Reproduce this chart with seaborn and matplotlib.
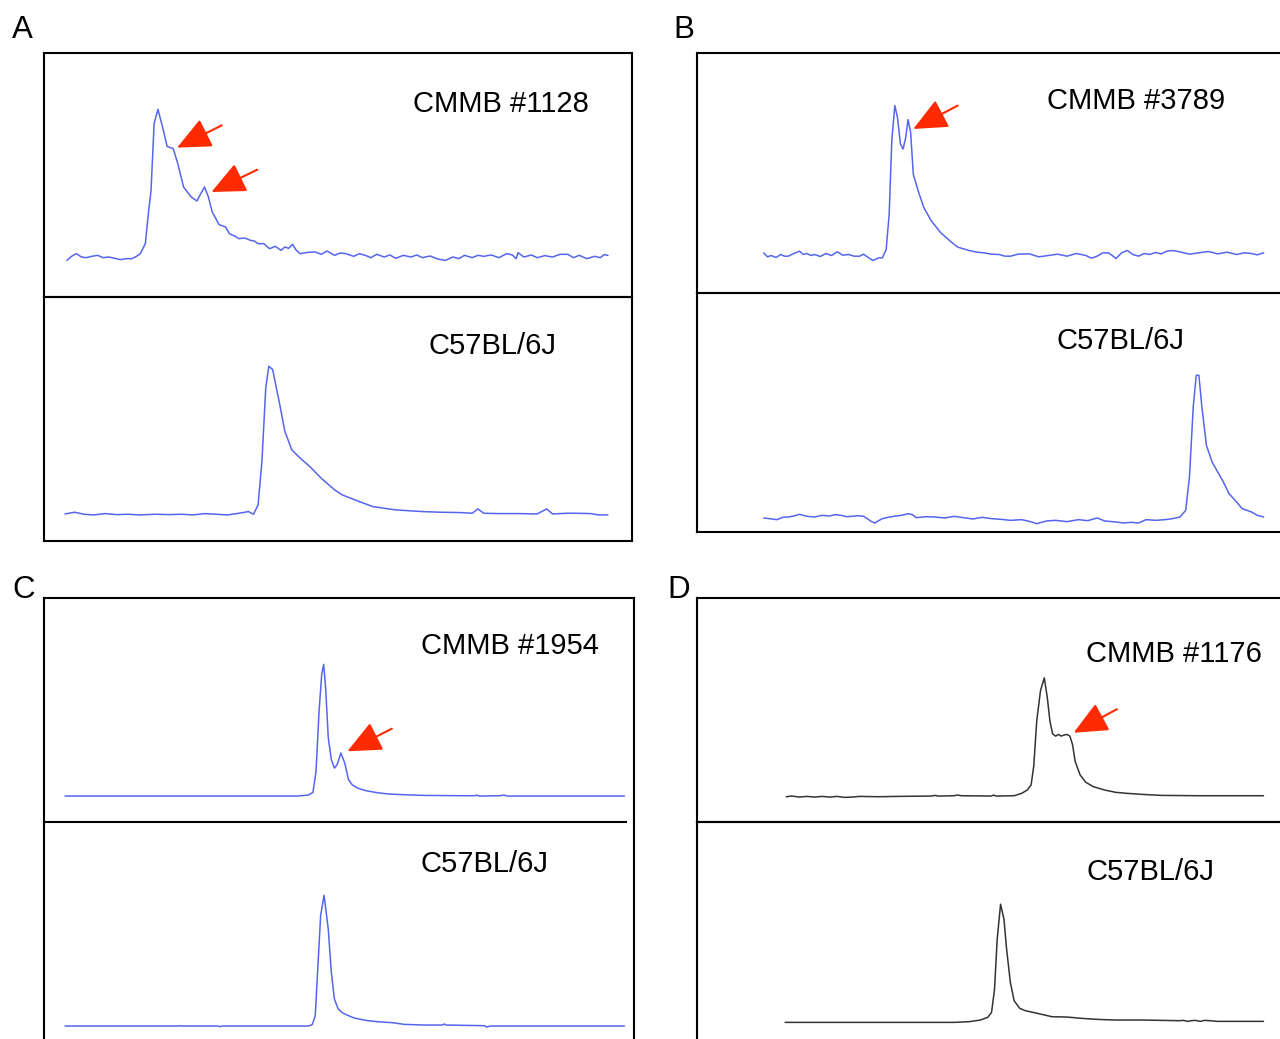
import numpy as np
import pandas as pd
import seaborn as sns
import matplotlib
matplotlib.use("Agg")
import matplotlib.pyplot as plt

sns.set_theme(style="white")
plt.rcParams['font.family'] = ['Liberation Sans', 'DejaVu Sans']

# ---------------- data (retention units, detector signal) ----------------
# Panel A, CMMB #1128
a_mut_t = [70, 82, 95, 108, 120, 135, 150, 165, 180, 195, 210, 225, 240, 252, 262, 275, 283, 290, 298, 308,
           320, 332, 348, 360, 375, 395, 410, 420, 430, 440, 450, 468, 485, 495, 510, 520, 535, 550, 560, 570,
           585, 600, 615, 630, 640, 650, 660, 670, 680, 700, 720, 735, 750, 770, 785, 800, 820, 835, 850, 865,
           880, 900, 915, 930, 950, 970, 985, 1000, 1020, 1040, 1060, 1080, 1095, 1110, 1130, 1145, 1160, 1180,
           1200, 1220, 1235, 1245, 1250, 1265, 1285, 1300, 1320, 1340, 1360, 1380, 1395, 1410, 1430, 1450, 1465,
           1475, 1485]
a_mut_s = [110, 122, 130, 120, 118, 122, 125, 118, 120, 116, 112, 115, 115, 122, 130, 160, 250, 320, 520, 563,
           510, 452, 445, 400, 330, 300, 288, 310, 330, 300, 255, 217, 210, 190, 182, 175, 177, 170, 168, 160,
           160, 145, 152, 140, 150, 146, 158, 140, 130, 134, 135, 128, 138, 125, 132, 130, 122, 130, 125, 118,
           128, 120, 126, 116, 125, 120, 126, 118, 123, 114, 110, 120, 115, 125, 118, 125, 122, 126,
           118, 130, 126, 115, 133, 120, 126, 118, 124, 120, 128, 128, 118, 125, 115, 122, 118,
           127, 125]
# Panel A, C57BL/6J
a_wt_t = [65, 90, 115, 140, 170, 200, 230, 260, 300, 340, 370, 400, 430, 460, 490, 520, 545, 558, 570, 580,
          590, 598, 608, 625, 640, 658, 680, 705, 735, 770, 790, 830, 870, 930, 1000, 1050, 1100, 1130,
          1145, 1160, 1200, 1250, 1300, 1325, 1340, 1380, 1400, 1440, 1460, 1485]
a_wt_s = [81, 86, 80, 78, 82, 79, 80, 78, 80, 79, 80, 78, 82, 80, 78, 83, 88, 80, 108, 238,
          458, 523, 513, 418, 328, 273, 248, 223, 188, 153, 138, 120, 103, 93, 88, 86, 85, 83,
          96, 83, 82, 82, 81, 96, 81, 83, 83, 82, 78, 78]

# Panel B, CMMB #3789
b_mut_t = [195, 205, 215, 228, 240, 250, 260, 275, 290, 300, 310, 320, 330, 345, 360, 375, 390, 405, 420,
           435, 450, 460, 470, 485, 500, 510, 520, 528, 535, 543, 550, 558, 565, 572, 578, 585, 592, 605,
           620, 640, 665, 690, 710, 725, 740, 760, 780, 800, 820, 835, 850, 870, 900, 925, 950, 975, 1000,
           1025, 1050, 1065, 1080, 1095, 1110, 1120, 1130, 1145, 1160, 1175, 1190, 1205, 1220, 1235, 1250,
           1265, 1280, 1300, 1325, 1350, 1375, 1400, 1425, 1450, 1470, 1490, 1505, 1522]
b_mut_s = [120, 108, 112, 106, 115, 110, 110, 118, 125, 115, 118, 112, 115, 109, 118, 112, 123, 113, 115,
           110, 110, 116, 108, 97, 105, 105, 130, 235, 455, 560, 525, 445, 430, 465, 518, 480, 355, 305,
           255, 215, 180, 155, 137, 132, 127, 122, 120, 116, 115, 110, 110, 116, 117, 108, 112, 116, 110,
           118, 112, 104, 110, 120, 120, 112, 103, 120, 127, 115, 110, 118, 115, 121, 117,
           125, 127, 123, 116, 120, 124, 117, 122, 115, 120, 118, 114, 120]
# Panel B, C57BL/6J
b_wt_t = [195, 210, 230, 245, 260, 275, 290, 310, 330, 350, 370, 385, 400, 415, 430, 445, 460, 470, 480,
          490, 500, 510, 525, 540, 560, 580, 590, 600, 625, 650, 675, 700, 725, 750, 775, 800, 825, 850,
          880, 900, 920, 945, 970, 1000, 1030, 1055, 1080, 1100, 1130, 1150, 1170, 1190, 1210, 1235, 1260,
          1280, 1300, 1315, 1325, 1335, 1343, 1350, 1358, 1370, 1385, 1400, 1415, 1430, 1450, 1465, 1490,
          1505, 1522]
b_wt_s = [42, 40, 37, 44, 45, 48, 53, 47, 45, 50, 48, 52, 50, 46, 47, 49, 47, 40, 32,
          27, 34, 40, 44, 47, 50, 55, 52, 43, 46, 45, 42, 47, 43, 39, 44, 40, 38, 35,
          37, 32, 25, 33, 35, 31, 37, 34, 42, 33, 30, 27, 29, 27, 37, 35, 37,
          40, 45, 65, 165, 375, 470, 470, 375, 260, 210, 180, 150, 115, 90, 70, 60,
          50, 45]

# Panel C, CMMB #1954
c_mut_t = [65, 300, 500, 670, 700, 712, 720, 728, 735, 740, 745, 752, 760, 768, 775, 785, 795, 805, 815,
           830, 850, 880, 910, 950, 1000, 1100, 1135, 1140, 1145, 1200, 1210, 1220, 1300, 1525]
c_mut_s = [77, 77, 77, 77, 80, 88, 150, 330, 440, 468, 400, 250, 185, 160, 170, 205, 175, 125, 110,
           100, 93, 87, 83, 81, 79, 78, 78, 80, 77, 78, 80, 77, 77, 77]
# Panel C, C57BL/6J
c_wt_t = [65, 360, 365, 370, 465, 470, 475, 700, 710, 718, 725, 732, 741, 752, 760, 768, 778, 790,
          805, 820, 850, 880, 920, 950, 1000, 1050, 1055, 1060, 1160, 1165, 1175, 1300, 1525]
c_wt_s = [39, 39, 40, 39, 39, 37, 39, 39, 43, 70, 220, 370, 432, 330, 200, 120, 90, 78,
          70, 63, 56, 52, 49, 44, 42, 42, 45, 42, 40, 36, 39, 39, 39]

# Panel D, CMMB #1176
d_mut_t = [255, 270, 290, 310, 330, 350, 370, 390, 410, 430, 450, 500, 550, 640, 650, 660, 700, 710, 720,
           800, 805, 812, 860, 880, 895, 905, 912, 920, 930, 940, 948, 955, 962, 970, 978, 985, 992, 1000,
           1008, 1015, 1022, 1035, 1050, 1070, 1100, 1130, 1160, 1200, 1250, 1350, 1400, 1522]
d_mut_s = [75, 77, 74, 76, 74, 76, 74, 76, 73, 74, 76, 75, 76, 77, 79, 77, 78, 80, 78,
           77, 80, 77, 78, 85, 95, 110, 165, 300, 390, 428, 370, 300, 262, 255, 260, 255, 258, 260,
           255, 230, 180, 140, 118, 105, 95, 88, 85, 82, 79, 78, 78, 78]
# Panel D, C57BL/6J
d_wt_t = [252, 500, 700, 740, 770, 790, 800, 808, 815, 824, 833, 840, 850, 860, 875, 890, 910, 930,
          960, 1000, 1040, 1080, 1130, 1200, 1300, 1310, 1320, 1330, 1340, 1355, 1365, 1380, 1400, 1522]
d_wt_s = [50, 50, 50, 52, 57, 65, 80, 150, 300, 405, 360, 270, 170, 115, 92, 85, 80, 75,
          67, 66, 62, 59, 57, 57, 55, 56, 53, 55, 56, 53, 56, 55, 53, 53]

mut_labels = ["CMMB #1128", "CMMB #3789", "CMMB #1954", "CMMB #1176"]
wt_label = "C57BL/6J"
panel_letters = ["A", "B", "C", "D"]

# arrows: (tail_t, tail_s, tip_t, tip_s)
a_arrows = [(475, 515, 358, 448), (568, 382, 448, 315)]
b_arrows = [(710, 560, 592, 490)]
c_arrows = [(918, 277, 802, 210)]
d_arrows = [(1133, 335, 1018, 265)]

# ---------------- figure ----------------
W, H = 1280, 1039
fig = plt.figure(figsize=(W / 100, H / 100), dpi=100)
fig.patch.set_facecolor("white")

BLUE = "#5566ee"
DARK = "#333333"
RED = "#ff2a00"


def add_ax(x0, y0, x1, y1):
    return fig.add_axes([x0 / W, 1 - y1 / H, (x1 - x0) / W, (y1 - y0) / H])


def trace(ax, t, s, color, xlim, ylim):
    df = pd.DataFrame({"t": t, "s": s})
    sns.lineplot(data=df, x="t", y="s", ax=ax, color=color, lw=1.1,
                 estimator=None, sort=False, legend=False)
    ax.set_xlim(*xlim)
    ax.set_ylim(*ylim)
    ax.set_xticks([])
    ax.set_yticks([])
    ax.set_xlabel("")
    ax.set_ylabel("")
    ax.set_facecolor("none")
    for sp in ax.spines.values():
        sp.set_color("black")
        sp.set_linewidth(1.5)


def arrows(ax, arr):
    for (t0, s0, t1, s1) in arr:
        ax.annotate("", xy=(t1, s1), xytext=(t0, s0),
                    arrowprops=dict(arrowstyle="-|>,head_length=2.1,head_width=0.95",
                                    color=RED, lw=1.5, shrinkA=0, shrinkB=0,
                                    mutation_scale=10))


# Panel A
ax = add_ax(44, 53, 632, 297)
trace(ax, a_mut_t, a_mut_s, BLUE, (10, 1548), (0, 732))
arrows(ax, a_arrows)
ax = add_ax(44, 297, 632, 541)
trace(ax, a_wt_t, a_wt_s, BLUE, (10, 1548), (0, 730))

# Panel B
ax = add_ax(697, 53, 1283, 293)
trace(ax, b_mut_t, b_mut_s, BLUE, (18, 18 + 586 * 2.654), (0, 717))
ax.spines["right"].set_visible(False)
arrows(ax, b_arrows)
ax = add_ax(697, 293, 1283, 532)
trace(ax, b_wt_t, b_wt_s, BLUE, (18, 18 + 586 * 2.654), (0, 717))
ax.spines["right"].set_visible(False)

# Panel C
ax = add_ax(44, 598, 634, 822)
trace(ax, c_mut_t, c_mut_s, BLUE, (10, 1550), (0, 665))
ax.spines["bottom"].set_bounds(10, 1528)
arrows(ax, c_arrows)
ax = add_ax(44, 822, 634, 1045)
trace(ax, c_wt_t, c_wt_s, BLUE, (10, 1550), (-18, 652))
ax.spines["top"].set_visible(False)
ax.spines["bottom"].set_visible(False)

# Panel D
ax = add_ax(697, 598, 1283, 822)
trace(ax, d_mut_t, d_mut_s, DARK, (18, 18 + 586 * 2.655), (0, 665))
ax.spines["right"].set_visible(False)
arrows(ax, d_arrows)
ax = add_ax(697, 822, 1283, 1045)
trace(ax, d_wt_t, d_wt_s, DARK, (18, 18 + 586 * 2.655), (-18, 652))
ax.spines["right"].set_visible(False)
ax.spines["bottom"].set_visible(False)

# ---------------- text ----------------
def ftext(x, y, s, size):
    fig.text(x / W, 1 - y / H, s, fontsize=size, ha="left", va="baseline", color="black")

label_pos = [((413, 112), (428, 354)), ((1047, 109), (1057, 349)),
             ((421, 654), (421, 872)), ((1086, 662), (1086, 880))]
for lab, (p_mut, p_wt) in zip(mut_labels, label_pos):
    ftext(*p_mut, lab, 21)
    ftext(*p_wt, wt_label, 21)

letter_pos = [(12, 38), (673, 38), (12, 598), (667, 598)]
for letter, p in zip(panel_letters, letter_pos):
    ftext(*p, letter, 22.5)

fig.savefig("out.png", dpi=100, facecolor="white")
